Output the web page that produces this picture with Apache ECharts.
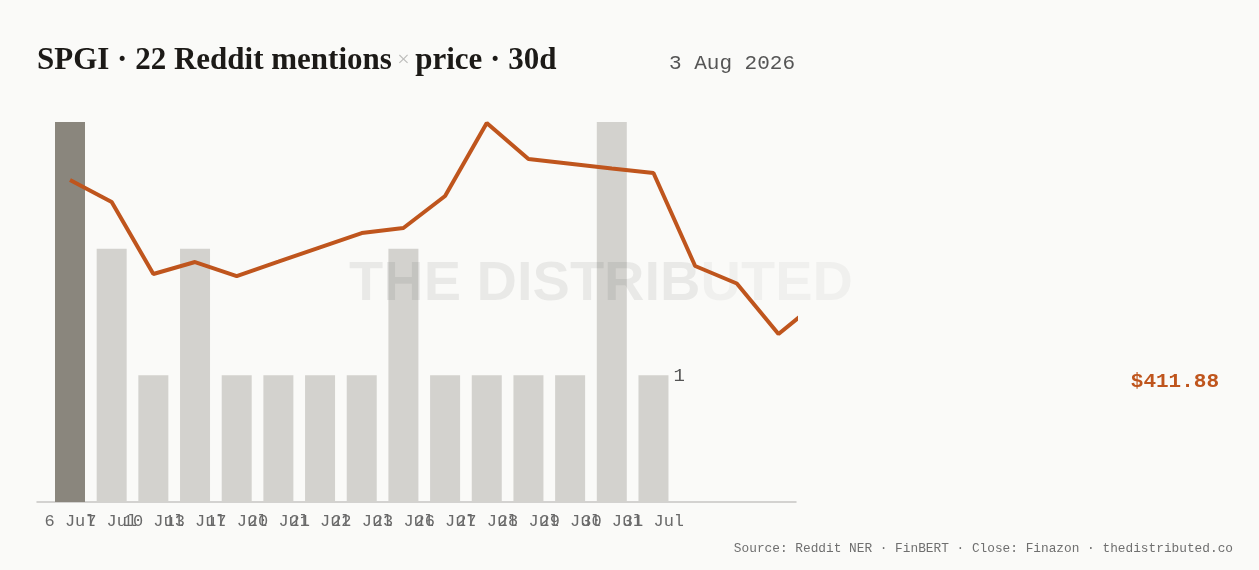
<!DOCTYPE html>
<html>
<head>
<meta charset="utf-8">
<script src="https://cdn.jsdelivr.net/npm/echarts@6/dist/echarts.min.js"></script>
<style>
  html, body { margin: 0; padding: 0; background: #fafaf8; }
  #chart { width: 1259px; height: 570px; }
</style>
</head>
<body>
<div id="chart"></div>
<script>
// mention days (bars) and daily closes (line)
const dates = ['6 Jul', '7 Jul', '10 Jul', '13 Jul', '17 Jul', '20 Jul', '21 Jul', '22 Jul',
  '23 Jul', '26 Jul', '27 Jul', '28 Jul', '29 Jul', '30 Jul', '31 Jul'];
const mentions = [3, 2, 1, 2, 1, 1, 1, 1, 2, 1, 1, 1, 1, 3, 1];
const closes = [430.84, 427.37, 416.0, 417.89, 415.68, 417.94, 420.22, 422.47, 423.26,
  428.32, 439.84, 434.16, 433.42, 432.66, 431.95, 417.26, 414.5, 406.53, 411.88];
const lastClose = '$411.88';

const ORANGE = '#bf551d';
const MONO = "'Liberation Mono', 'DejaVu Sans Mono', monospace";
const X_MIN = -0.792;
const X_MAX = 17.42;

const chart = echarts.init(document.getElementById('chart'));

chart.setOption({
  backgroundColor: '#fafaf8',
  animation: false,
  grid: {
    left: 37,
    right: 463,
    top: 122,
    bottom: 68,
    containLabel: false,
    outerBoundsMode: 'none',
  },
  xAxis: {
    type: 'value',
    min: X_MIN,
    max: X_MAX,
    splitLine: { show: false },
    axisTick: { show: false },
    axisLine: {
      show: true,
      lineStyle: { color: '#c6c5c2', width: 1.5 },
    },
    axisLabel: {
      // empty labels at both ends so v6 min/max overlap logic leaves the dates alone
      customValues: [X_MIN].concat(dates.map((d, i) => i), [X_MAX]),
      formatter: (v) => dates[v] || '',
      showMinLabel: false,
      showMaxLabel: false,
      hideOverlap: false,
      color: '#6a6a6a',
      fontFamily: MONO,
      fontSize: 17,
      margin: 11,
    },
  },
  yAxis: [
    { type: 'value', min: 0, max: 3, show: false },
    { type: 'value', min: 380, max: 440, show: false },
  ],
  graphic: [
    {
      type: 'text',
      left: 37,
      top: 45,
      style: {
        text: '{a|SPGI · 22 Reddit mentions}{x| × }{a|price · 30d}',
        rich: {
          a: {
            fontFamily: "'Liberation Serif', 'DejaVu Serif', serif",
            fontWeight: 'bold',
            fontSize: 31,
            fill: '#1c1a17',
          },
          x: {
            fontFamily: "'Liberation Serif', serif",
            fontSize: 22,
            fill: '#bdbdbb',
          },
        },
      },
    },
    {
      type: 'text',
      x: 795,
      y: 63,
      style: {
        text: '3 Aug 2026',
        align: 'right',
        verticalAlign: 'middle',
        fontFamily: MONO,
        fontSize: 21,
        fill: '#555',
      },
    },
    {
      type: 'text',
      x: 601,
      y: 285,
      z: 3,
      style: {
        text: '{a|THE DISTRIB}{b|UTED}',
        align: 'center',
        verticalAlign: 'middle',
        rich: {
          a: {
            fontFamily: "'Liberation Sans', Arial, sans-serif",
            fontWeight: 'bold',
            fontSize: 56,
            fill: 'rgba(0,0,0,0.065)',
          },
          b: {
            fontFamily: "'Liberation Sans', Arial, sans-serif",
            fontWeight: 'bold',
            fontSize: 56,
            fill: 'rgba(0,0,0,0.04)',
            textShadowColor: 'rgba(0,0,0,0.08)',
            textShadowBlur: 8,
          },
        },
      },
    },
    {
      type: 'text',
      x: 1219,
      y: 382,
      style: {
        text: lastClose,
        align: 'right',
        verticalAlign: 'middle',
        fontFamily: MONO,
        fontWeight: 'bold',
        fontSize: 21,
        fill: ORANGE,
      },
    },
    {
      type: 'text',
      x: 1233,
      y: 549,
      style: {
        text: 'Source: Reddit NER · FinBERT · Close: Finazon · thedistributed.co',
        align: 'right',
        verticalAlign: 'middle',
        fontFamily: MONO,
        fontSize: 12.8,
        fill: '#6f6f6f',
      },
    },
  ],
  series: [
    {
      type: 'bar',
      z: 1,
      barWidth: 30,
      yAxisIndex: 0,
      data: mentions.map((v, i) => {
        const item = {
          value: [i, v],
          itemStyle: { color: i === 0 ? '#8a867d' : '#d3d2ce' },
        };
        if (i === mentions.length - 1) {
          item.label = {
            show: true,
            position: [35, 1],
            verticalAlign: 'middle',
            align: 'left',
            fontFamily: MONO,
            fontSize: 19,
            color: '#555',
            formatter: String(v),
          };
        }
        return item;
      }),
    },
    {
      type: 'line',
      z: 5,
      yAxisIndex: 1,
      symbol: 'none',
      clip: true,
      lineStyle: { color: ORANGE, width: 4 },
      data: closes.map((v, i) => [i, v]),
    },
  ],
});
</script>
</body>
</html>
